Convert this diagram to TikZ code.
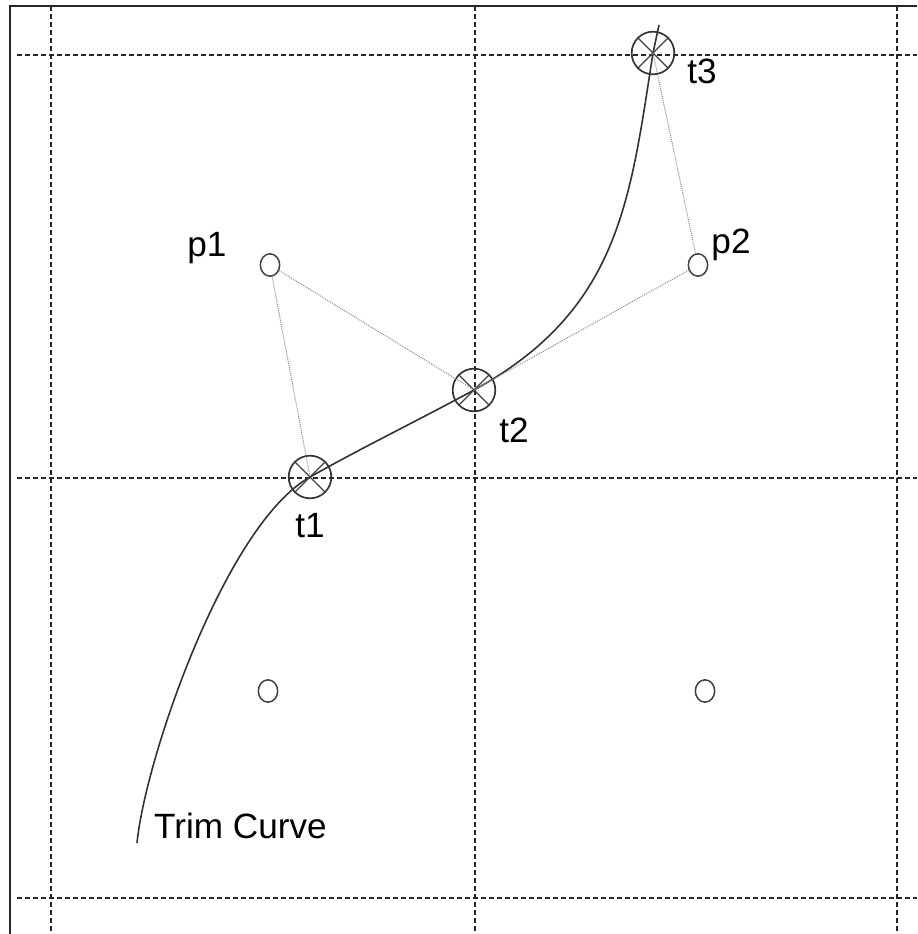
\documentclass[tikz,border=0pt]{standalone}
\usepackage{fontspec}
\setmainfont{Liberation Sans}
\usetikzlibrary{shapes.geometric}
\begin{document}
\begin{tikzpicture}[x=0.03cm,y=-0.03cm,
  frame/.style={line width=0.05cm,black!85},
  grid/.style={line width=0.055cm,black!85,dash pattern=on 0.16cm off 0.08cm},
  tpt/.style={circle,draw=black!80,line width=0.05cm,minimum size=1.28cm,inner sep=0pt},
  ppt/.style={ellipse,draw=black!75,line width=0.045cm,minimum width=0.58cm,minimum height=0.67cm,inner sep=0pt},
  xline/.style={draw=black!75,line width=0.038cm},
  link/.style={draw=black!45,line width=0.03cm,dash pattern=on 0.03cm off 0.03cm},
  curve/.style={draw=black!80,line width=0.048cm},
  lbl/.style={font=\fontsize{30}{32}\selectfont,inner sep=0pt}]
\useasboundingbox (0,0) rectangle (917,934);
% frame
\draw[frame] (10,934) -- (10,6) -- (917,6);
% grid
\foreach \gx in {51,475,897} \draw[grid] (\gx,6) -- (\gx,934);
\foreach \gy in {55,478,898} \draw[grid] (17,\gy) -- (917,\gy);
% t points
\node[tpt] (t1) at (310,477) {};
\node[tpt] (t2) at (474,390) {};
\node[tpt] (t3) at (653,53) {};
\coordinate (cs) at (137,843);
\coordinate (ce) at (659,25);
% curve
\draw[curve] (cs) .. controls (145,760) and (225,525) .. (t1.center)
  .. controls (365,446) and (419,420) .. (t2.center)
  .. controls (620,310) and (630,200) .. (t3.center) -- (ce);
\foreach \n in {t1,t2,t3} {
  \draw[xline] (\n.north east) -- (\n.south west);
  \draw[xline] (\n.north west) -- (\n.south east);
}
% p points
\node[ppt] (p1) at (270,265) {};
\node[ppt] (p2) at (698,265) {};
\node[ppt] (q1) at (268,691) {};
\node[ppt] (q2) at (705,691) {};
% links
\draw[link] (p1) -- (t1.center);
\draw[link] (p1) -- (t2.center);
\draw[link] (p2) -- (t2.center);
\draw[link] (p2) -- (t3.center);
% labels
\node[lbl] (lp1) at (207,248) {p1};
\node[lbl] (lp2) at (731,245) {p2};
\node[lbl] (lt1) at (310,526) {t1};
\node[lbl] (lt2) at (514,430) {t2};
\node[lbl] (lt3) at (702,71) {t3};
\node[lbl,anchor=west] (ltc) at (154,826) {Trim Curve};
\end{tikzpicture}
\end{document}
